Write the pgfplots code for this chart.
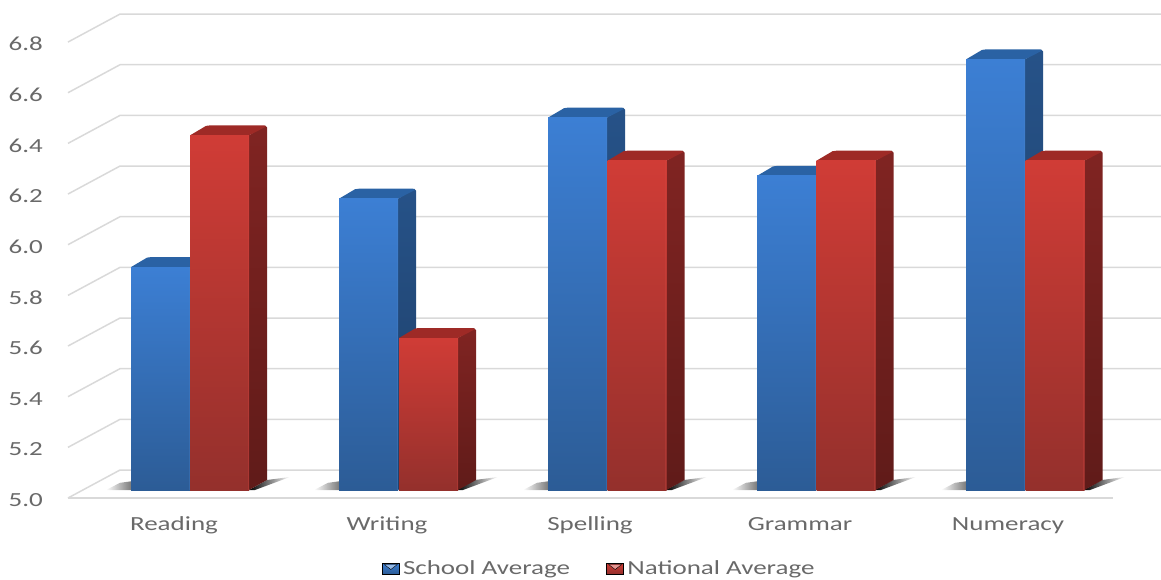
\documentclass[border=0pt]{standalone}
\usepackage{fontspec}
\setmainfont[FakeStretch=1.35]{Carlito}
\usepackage{pgfplots}
\pgfplotsset{compat=1.18}

\definecolor{gridgrey}{RGB}{217,217,217}
\definecolor{labelgrey}{RGB}{105,105,105}
\definecolor{blueFrontTop}{RGB}{60,127,212}
\definecolor{blueFrontBot}{RGB}{44,92,150}
\definecolor{blueSideTop}{RGB}{38,82,136}
\definecolor{blueSideBot}{RGB}{30,62,102}
\definecolor{blueTop}{RGB}{42,98,164}
\definecolor{blueEdge}{RGB}{74,134,206}
\definecolor{redFrontTop}{RGB}{208,60,54}
\definecolor{redFrontBot}{RGB}{148,48,44}
\definecolor{redSideTop}{RGB}{128,36,34}
\definecolor{redSideBot}{RGB}{96,27,25}
\definecolor{redTop}{RGB}{158,42,38}
\definecolor{redEdge}{RGB}{216,72,66}

% bar plane sits 8 px in front of the floor edge; depth is 18 px across, 10 px up;
% the back corners of the top face are slightly chamfered
\newcommand\ThreeDBar[3]{%
  \addplot[forget plot,draw=none,shade,top color=#3SideTop,bottom color=#3SideBot]
    coordinates {({#1+59},5.0316) ({#1+77},5.0711) ({#1+77},{#2+0.0630}) ({#1+75},{#2+0.0711}) ({#1+59},{#2+0.0316})} -- cycle;
  \addplot[forget plot,draw=none,fill=#3Top]
    coordinates {(#1,{#2+0.0316}) ({#1+16},{#2+0.0690}) ({#1+20},{#2+0.0711}) ({#1+74},{#2+0.0711}) ({#1+76},{#2+0.0660}) ({#1+59},{#2+0.0316})} -- cycle;
  \addplot[forget plot,draw=none,shade,top color=#3FrontTop,bottom color=#3FrontBot]
    coordinates {(#1,5.0316) ({#1+59},5.0316) ({#1+59},{#2+0.0316}) (#1,{#2+0.0316})} -- cycle;
  \addplot[forget plot,draw=#3Edge,line width=0.8pt,opacity=0.3]
    coordinates {({#1+58},5.0316) ({#1+58},{#2+0.0316})};
}
% soft floor shadow on both sides of a bar pair
\newcommand\FloorShadow[1]{%
  \addplot[forget plot,draw=none,shade,left color=white,right color=black!60]
    coordinates {({#1-25},5.0316) ({#1-11},5.0600) ({#1+4},5.0680) ({#1+4},5.0316)} -- cycle;
  \addplot[forget plot,draw=none,shade,left color=black,right color=white]
    coordinates {({#1+118},5.0316) ({#1+136},5.0711) ({#1+159},5.0830) ({#1+124},5.0316)} -- cycle;
}
\newcommand\WallLine[1]{%
  \addplot[forget plot,gridgrey,line width=1.5pt]
    coordinates {(68,#1) (120,{#1+0.1105}) (1161,{#1+0.1105})};
}

\begin{document}
\begin{tikzpicture}[x=1pt,y=1pt]
\useasboundingbox (0,0) rectangle (1161,579);
\begin{axis}[
  at={(68pt,81pt)}, anchor=south west,
  scale only axis, width=1093pt, height=484pt,
  xmin=68, xmax=1161, ymin=5, ymax=6.9108,
  clip=false,
  axis line style={draw=none},
  major tick length=0pt,
  xtick pos=bottom, ytick pos=left,
  xtick={174,387,590,800,1008},
  xticklabels={Reading,Writing,Spelling,Grammar,Numeracy},
  ytick={5,5.2,5.4,5.6,5.8,6,6.2,6.4,6.6,6.8},
  /pgf/number format/.cd, fixed, fixed zerofill, precision=1, assume math mode=true,
  /pgfplots/.cd,
  tick label style={font=\fontsize{20}{22}\selectfont, text=labelgrey, inner sep=0pt},
  yticklabel style={anchor=east, xshift=-25pt, yshift=-2pt},
  xticklabel style={anchor=base, yshift=-32pt},
  legend style={
    at={(532pt,-70.5pt)}, anchor=center, draw=none, fill=none,
    font=\fontsize{20}{22}\selectfont, text=labelgrey,
    /tikz/every even column/.append style={column sep=33pt},
    nodes={inner xsep=3.5pt, inner ysep=0pt},
    inner sep=0pt,
  },
  legend columns=2,
  legend cell align=left,
]
% swatches for the key
\addlegendimage{legend image code/.code={
  \path[shade,top color=blueFrontTop,bottom color=blueFrontBot] (0pt,-5.5pt) rectangle (17pt,5.5pt);
  \path[fill=blueFrontTop!55!white] (2pt,4pt) -- (15pt,4pt) -- (8.5pt,-1pt) -- cycle;
}}
\addlegendentry{School Average}
\addlegendimage{legend image code/.code={
  \path[shade,top color=redFrontTop,bottom color=redFrontBot] (0pt,-5.5pt) rectangle (17pt,5.5pt);
  \path[fill=redFrontTop!55!white] (2pt,4pt) -- (15pt,4pt) -- (8.5pt,-1pt) -- cycle;
}}
\addlegendentry{National Average}

% back wall and side wall lines
\WallLine{5.0}\WallLine{5.2}\WallLine{5.4}\WallLine{5.6}\WallLine{5.8}
\WallLine{6.0}\WallLine{6.2}\WallLine{6.4}\WallLine{6.6}\WallLine{6.8}
% front edge of the floor
\addplot[forget plot,gridgrey,line width=1.5pt] coordinates {(68,5.0) (1113,5.0)};

\FloorShadow{131}\FloorShadow{339}\FloorShadow{548}\FloorShadow{757}\FloorShadow{966}

\ThreeDBar{131}{5.88}{blue}\ThreeDBar{190}{6.40}{red}
\ThreeDBar{339}{6.15}{blue}\ThreeDBar{399}{5.60}{red}
\ThreeDBar{548}{6.47}{blue}\ThreeDBar{607.5}{6.30}{red}
\ThreeDBar{757}{6.24}{blue}\ThreeDBar{816.5}{6.30}{red}
\ThreeDBar{966}{6.70}{blue}\ThreeDBar{1025.5}{6.30}{red}
\end{axis}
\end{tikzpicture}
\end{document}
